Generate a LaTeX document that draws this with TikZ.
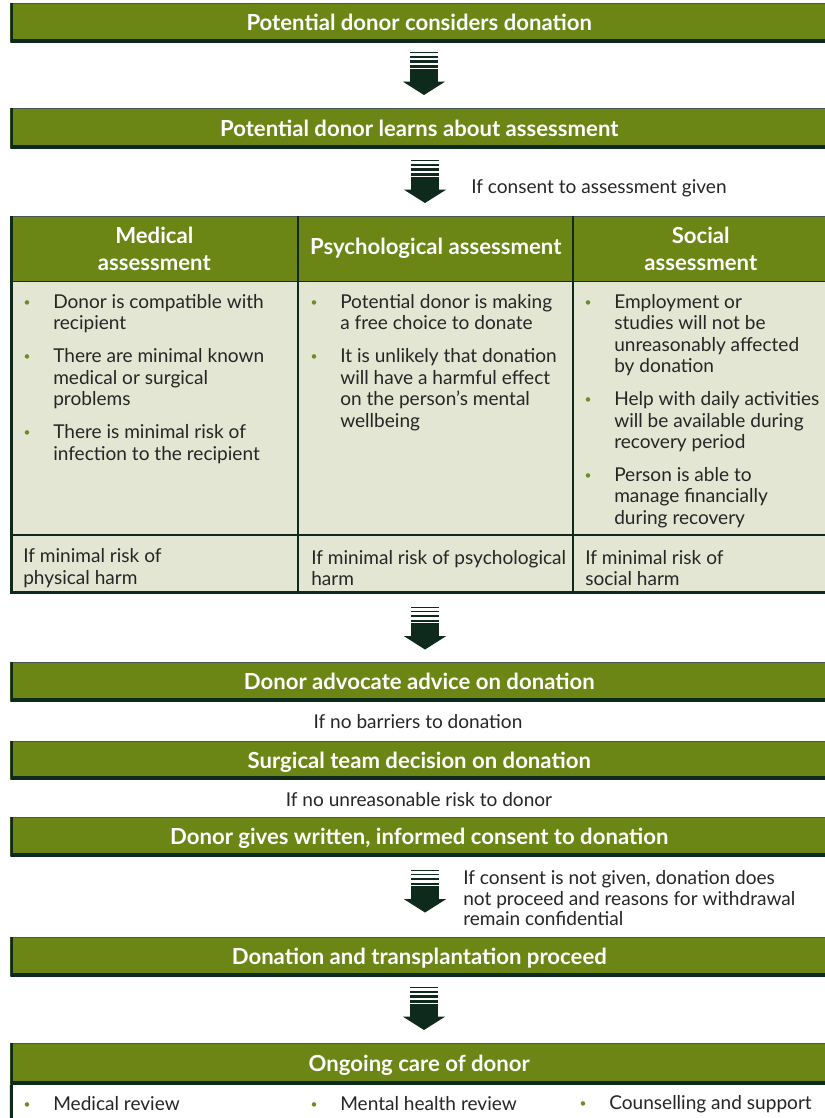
\documentclass[tikz,border=0pt]{standalone}
\usepackage{fontspec}
\setmainfont{Lato}
\definecolor{olive}{HTML}{6B8615}
\definecolor{pale}{HTML}{E3E6D3}
\definecolor{dk}{HTML}{0E2A1C}
\definecolor{edge}{HTML}{46574F}
\definecolor{txt}{HTML}{262626}
\definecolor{bulg}{HTML}{6B8E23}
\newcommand\bl{\llap{\raisebox{1.6pt}{\textcolor{bulg}{\small\textbullet}}\hspace{17pt}}}
\newcommand\bodyfont{\fontsize{14.3pt}{16.1pt}\selectfont}
\newcommand\headfont{\fontsize{16.6pt}{20.3pt}\selectfont\bfseries}
\tikzset{
  gbox/.style={fill=olive, inner sep=0pt, minimum width=613.5pt, anchor=north west,
    text=white, font=\headfont, text height=11.8pt, text depth=0pt,
    path picture={
      \draw[line width=1.5pt, edge] (path picture bounding box.north west) -- (path picture bounding box.north east);
      \draw[line width=4.5pt, dk] (path picture bounding box.north west) -- (path picture bounding box.south west) -- (path picture bounding box.south east);}},
  hcell/.style={fill=olive, inner sep=0pt, anchor=north west, minimum height=48.75pt,
    text=white, font=\headfont, align=center},
  bcell/.style={fill=pale, inner sep=0pt, anchor=north west},
  body/.style={inner sep=0pt, text=txt, font=\bodyfont, align=left},
  note/.style={inner sep=0pt, text=txt, font=\bodyfont, align=left},
  gridline/.style={draw=dk, line width=1.5pt},
  downarr/.pic={
    \fill[dk] (-14,-21.2) rectangle (14,-20.2);
    \fill[dk] (-14,-17.2) rectangle (14,-15.8);
    \fill[dk] (-14,-13.2) rectangle (14,-10.8);
    \fill[dk] (-14,-8.5) rectangle (14,-5.8);
    \fill[dk] (-14,-4.8) rectangle (14,8.4);
    \fill[dk] (-21,8.2) -- (21,8.2) -- (0,21.5) -- cycle;}
}
\begin{document}
\begin{tikzpicture}[x=0.75pt,y=-0.75pt]
\clip (0,0) rectangle (825,1118);
\fill[white] (0,0) rectangle (825,1118);

% top boxes
\node[gbox, minimum height=29.25pt] (b1) at (10,3) {Potential donor considers donation};
\pic at (424,73.5) {downarr};
\node[gbox, minimum height=30pt] (b2) at (10,108) {Potential donor learns about assessment};
\pic at (425,181.5) {downarr};
\node[note, anchor=west] (c1) at (471,188) {If consent to assessment given};

% table
\node[hcell, minimum width=216pt] (h1) at (10,216) {Medical\\assessment};
\node[hcell, minimum width=206.25pt] (h2) at (298,216) {Psychological assessment};
\node[hcell, minimum width=191.25pt] (h3) at (573,216) {Social\\assessment};
\node[bcell, minimum width=216pt, minimum height=189.75pt] (m1) at (10,281) {};
\node[bcell, minimum width=206.25pt, minimum height=189.75pt] (m2) at (298,281) {};
\node[bcell, minimum width=191.25pt, minimum height=189.75pt] (m3) at (573,281) {};
\node[bcell, minimum width=216pt, minimum height=44.25pt] (f1) at (10,534) {};
\node[bcell, minimum width=206.25pt, minimum height=44.25pt] (f2) at (298,534) {};
\node[bcell, minimum width=191.25pt, minimum height=44.25pt] (f3) at (573,534) {};

\draw[edge, line width=0.75pt] (h1.north west) -- (h3.north east);
\draw[gridline, line width=1.2pt] (h1.south west) -- (h3.south east);
\draw[gridline] (m1.south west) -- (m3.south east);
\draw[gridline] (h2.north west) -- (f2.south west);
\draw[gridline] (h3.north west) -- (f3.south west);
\draw[gridline, line width=2.25pt] ([xshift=1.1pt]h1.north west) -- ([xshift=1.1pt]f1.south west);
\draw[gridline, line width=2.25pt] ([yshift=1.1pt]f1.south west) -- ([yshift=1.1pt]f3.south east);

\node[body, anchor=north west] (t1) at (53,294) {\bl Donor is compatible with\\recipient\\[8.6pt]
\bl There are minimal known\\medical or surgical\\problems\\[8.6pt]
\bl There is minimal risk of\\infection to the recipient};
\node[body, anchor=north west] (t2) at (340,294) {\bl Potential donor is making\\a free choice to donate\\[8.6pt]
\bl It is unlikely that donation\\will have a harmful effect\\on the person's mental\\wellbeing};
\node[body, anchor=north west] (t3) at (614,294) {\bl Employment or\\studies will not be\\unreasonably affected\\by donation\\[8.6pt]
\bl Help with daily activities\\will be available during\\recovery period\\[8.6pt]
\bl Person is able to\\manage financially\\during recovery};

\node[body, anchor=west] (u1) at (23,568) {If minimal risk of\\physical harm};
\node[body, anchor=west] (u2) at (311,568) {If minimal risk of psychological\\harm};
\node[body, anchor=west] (u3) at (585,568) {If minimal risk of\\social harm};

\pic at (425,628) {downarr};

\node[gbox, minimum height=29.25pt] (b3) at (10,662) {Donor advocate advice on donation};
\node[note] (c2) at (418,722) {If no barriers to donation};
\node[gbox, minimum height=28.5pt] (b4) at (10,741) {Surgical team decision on donation};
\node[note] (c3) at (419,800) {If no unreasonable risk to donor};
\node[gbox, minimum height=29.25pt] (b5) at (10,817) {Donor gives written, informed consent to donation};
\pic at (425,891) {downarr};
\node[note, anchor=west, font=\fontsize{14.3pt}{15.4pt}\selectfont] (c4) at (463,898.5) {If consent is not given, donation does\\not proceed and reasons for withdrawal\\remain confidential};
\node[gbox, minimum height=29.25pt] (b6) at (10,937) {Donation and transplantation proceed};
\pic at (424,1008.5) {downarr};
\node[gbox, minimum height=30.75pt] (b7) at (10,1043) {Ongoing care of donor};
\coordinate (bend) at (11.5,1118);
\draw[dk, line width=2.25pt] ([xshift=1.1pt]b7.south west) -- (bend);

\node[body, anchor=west] (o1) at (53,1104) {\bl Medical review};
\node[body, anchor=west] (o2) at (340,1104) {\bl Mental health review};
\node[body, anchor=west] (o3) at (609,1104) {\bl Counselling and support};
\end{tikzpicture}
\end{document}
